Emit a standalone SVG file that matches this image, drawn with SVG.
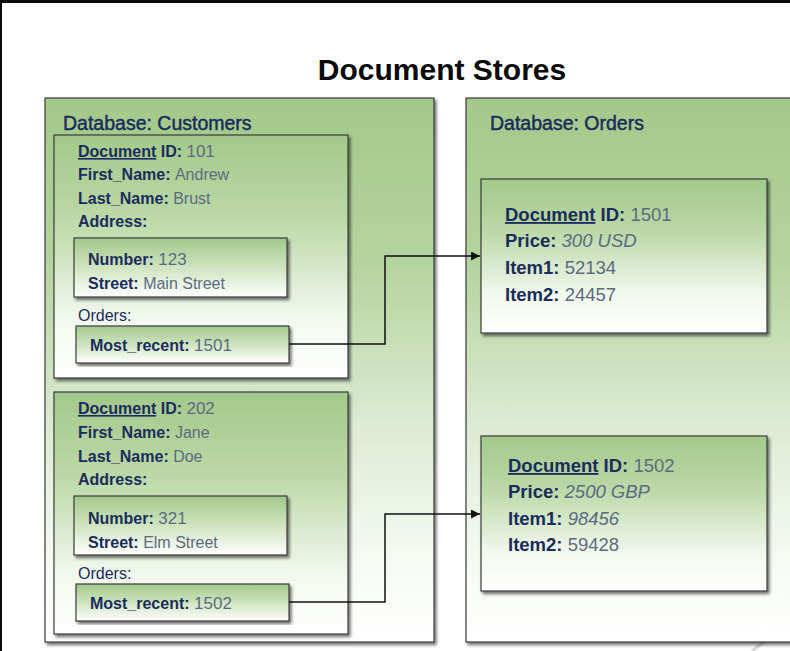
<svg xmlns="http://www.w3.org/2000/svg" width="790" height="651" viewBox="0 0 790 651">
<defs>
<linearGradient id="gOuter" x1="0" y1="0" x2="0" y2="1">
<stop offset="0" stop-color="#a3c98a"/>
<stop offset="0.3" stop-color="#b4d49e"/>
<stop offset="0.6" stop-color="#dcebd2"/>
<stop offset="0.85" stop-color="#f6faf3"/>
<stop offset="1" stop-color="#ffffff"/>
</linearGradient>
<linearGradient id="gDoc" x1="0" y1="0" x2="0" y2="1">
<stop offset="0" stop-color="#a2c98a"/>
<stop offset="0.35" stop-color="#bcd9a8"/>
<stop offset="0.75" stop-color="#f2f8ee"/>
<stop offset="1" stop-color="#ffffff"/>
</linearGradient>
<linearGradient id="gSmall" x1="0" y1="0" x2="0" y2="1">
<stop offset="0" stop-color="#a2c98a"/>
<stop offset="0.5" stop-color="#cfe4c0"/>
<stop offset="1" stop-color="#ffffff"/>
</linearGradient>
<filter id="sh" x="-5%" y="-5%" width="115%" height="115%">
<feDropShadow dx="2" dy="2.5" stdDeviation="1.5" flood-color="#000" flood-opacity="0.55"/>
</filter>
<marker id="arr" viewBox="0 0 10 10" refX="10" refY="5" markerWidth="9" markerHeight="9" markerUnits="userSpaceOnUse" orient="auto">
<path d="M0,0 L10,5 L0,10 z" fill="#111"/>
</marker>
</defs>
<style>
.box{stroke:#3b3b3b;stroke-width:1.2;filter:url(#sh)}
.outer{fill:url(#gOuter)}
.doc{fill:url(#gDoc)}
.small{fill:url(#gSmall)}
text{font-family:"Liberation Sans",Arial,sans-serif;fill:#1b2c5c}
.k{font-weight:bold}
.v{font-weight:normal;fill:#5c6b80}
.db{font-size:19.5px;stroke:#1b2c5c;stroke-width:0.45}
.t{font-size:16px}
.t2{font-size:18.5px}
.u{text-decoration:underline}
.con{fill:none;stroke:#111;stroke-width:1.5}
</style>
<rect x="0" y="0" width="790" height="651" fill="#ffffff"/>
<rect x="0" y="0" width="790" height="3" fill="#0b0b0b"/>
<rect x="0" y="0" width="2" height="651" fill="#0b0b0b"/>
<line x1="752" y1="651" x2="790" y2="622" stroke="#d8d8d8" stroke-width="3"/>
<g id="title">
<text x="442" y="80" text-anchor="middle" style="font-size:30px;font-weight:bold;fill:#0a0a0a;font-family:'Liberation Sans',Arial,sans-serif">Document Stores</text>
</g>
<g id="db-customers">
<rect class="box outer" x="45" y="98" width="389" height="544"/>
<text class="db" x="63" y="130">Database: Customers</text>
</g>
<g id="doc-101">
<rect class="box doc" x="54" y="135" width="294" height="243"/>
<text class="t" x="78" y="157"><tspan class="k u">Document</tspan><tspan class="k"> ID: </tspan><tspan class="v" font-size="17">101</tspan></text>
<text class="t" x="78" y="180"><tspan class="k">First_Name: </tspan><tspan class="v">Andrew</tspan></text>
<text class="t" x="78" y="204"><tspan class="k">Last_Name: </tspan><tspan class="v">Brust</tspan></text>
<text class="t k" x="78" y="227">Address:</text>
<text class="t" x="78" y="321">Orders:</text>
</g>
<g id="addr-101">
<rect class="box small" x="74" y="238" width="213" height="59"/>
<text class="t" x="88" y="265"><tspan class="k">Number: </tspan><tspan class="v" font-size="17">123</tspan></text>
<text class="t" x="88" y="289"><tspan class="k">Street: </tspan><tspan class="v">Main Street</tspan></text>
</g>
<g id="orders-101">
<rect class="box small" x="76" y="326" width="213" height="37"/>
<text class="t" x="90" y="351"><tspan class="k">Most_recent: </tspan><tspan class="v" font-size="17">1501</tspan></text>
</g>
<g id="doc-202">
<rect class="box doc" x="54" y="392" width="294" height="242"/>
<text class="t" x="78" y="414"><tspan class="k u">Document</tspan><tspan class="k"> ID: </tspan><tspan class="v" font-size="17">202</tspan></text>
<text class="t" x="78" y="438"><tspan class="k">First_Name: </tspan><tspan class="v">Jane</tspan></text>
<text class="t" x="78" y="462"><tspan class="k">Last_Name: </tspan><tspan class="v">Doe</tspan></text>
<text class="t k" x="78" y="485">Address:</text>
<text class="t" x="78" y="579">Orders:</text>
</g>
<g id="addr-202">
<rect class="box small" x="74" y="496" width="213" height="59"/>
<text class="t" x="88" y="524"><tspan class="k">Number: </tspan><tspan class="v" font-size="17">321</tspan></text>
<text class="t" x="88" y="548"><tspan class="k">Street: </tspan><tspan class="v">Elm Street</tspan></text>
</g>
<g id="orders-202">
<rect class="box small" x="76" y="584" width="213" height="37"/>
<text class="t" x="90" y="609"><tspan class="k">Most_recent: </tspan><tspan class="v" font-size="17">1502</tspan></text>
</g>
<g id="db-orders">
<rect class="box outer" x="466" y="98" width="340" height="544"/>
<text class="db" x="490" y="130">Database: Orders</text>
</g>
<g id="order-1501">
<rect class="box doc" x="481" y="179" width="286" height="154"/>
<text class="t2" x="505" y="221"><tspan class="k u">Document</tspan><tspan class="k"> ID: </tspan><tspan class="v">1501</tspan></text>
<text class="t2" x="505" y="247"><tspan class="k">Price: </tspan><tspan class="v" font-style="italic">300 USD</tspan></text>
<text class="t2" x="505" y="274"><tspan class="k">Item1: </tspan><tspan class="v">52134</tspan></text>
<text class="t2" x="505" y="301"><tspan class="k">Item2: </tspan><tspan class="v">24457</tspan></text>
</g>
<g id="order-1502">
<rect class="box doc" x="481" y="436" width="286" height="155"/>
<text class="t2" x="508" y="472"><tspan class="k u">Document</tspan><tspan class="k"> ID: </tspan><tspan class="v">1502</tspan></text>
<text class="t2" x="508" y="498"><tspan class="k">Price: </tspan><tspan class="v" font-style="italic">2500 GBP</tspan></text>
<text class="t2" x="508" y="525"><tspan class="k">Item1: </tspan><tspan class="v" font-style="italic">98456</tspan></text>
<text class="t2" x="508" y="551"><tspan class="k">Item2: </tspan><tspan class="v">59428</tspan></text>
</g>
<g id="connectors">
<path class="con" d="M289,344 H385 V256 H480" marker-end="url(#arr)"/>
<path class="con" d="M289,602 H385 V514 H480" marker-end="url(#arr)"/>
</g>
</svg>
